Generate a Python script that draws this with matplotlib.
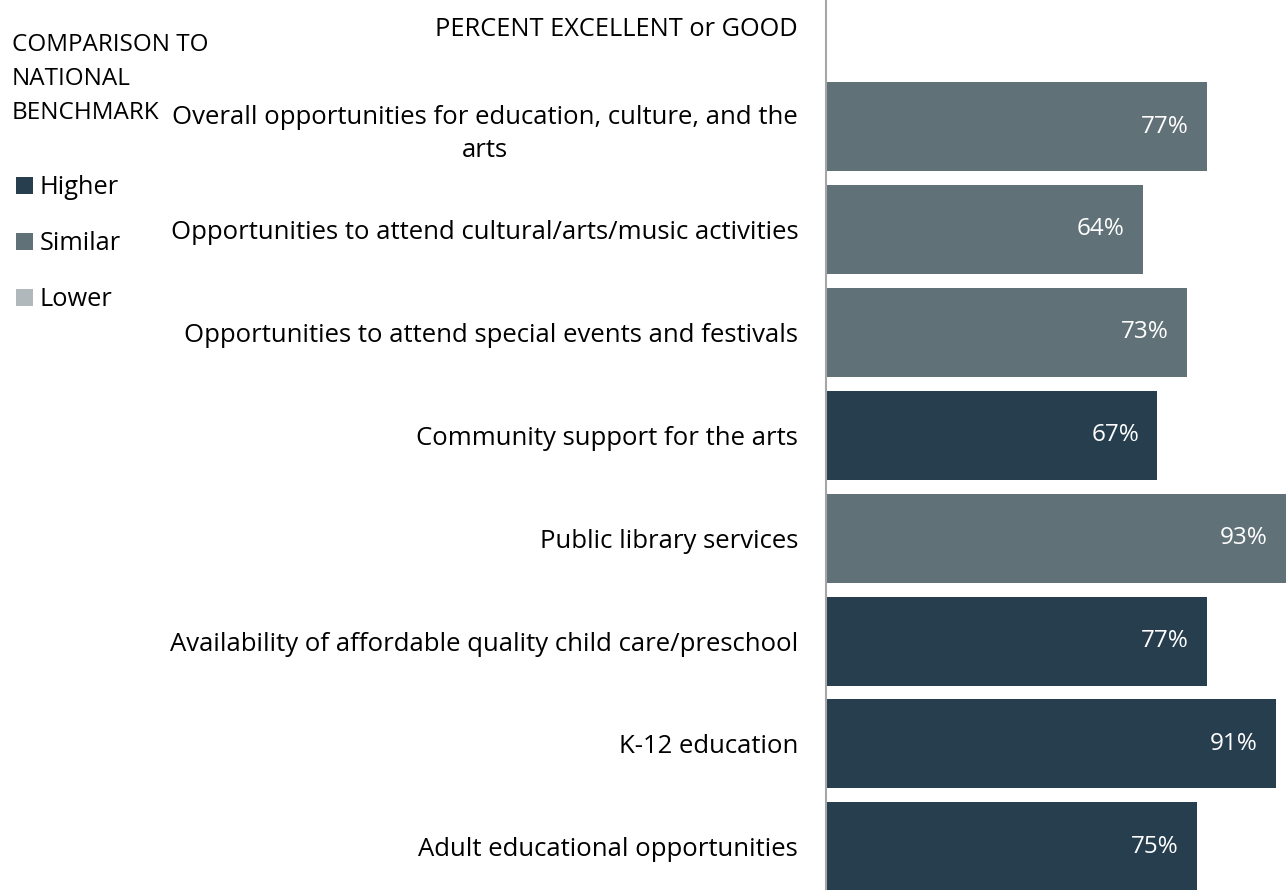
import matplotlib.pyplot as plt
from matplotlib.patches import Patch

plt.rcParams['font.family'] = ['Open Sans', 'DejaVu Sans']

categories = [
    'Overall opportunities for education, culture, and the\narts',
    'Opportunities to attend cultural/arts/music activities',
    'Opportunities to attend special events and festivals',
    'Community support for the arts',
    'Public library services',
    'Availability of affordable quality child care/preschool',
    'K-12 education',
    'Adult educational opportunities',
]
percents = [77, 64, 73, 67, 93, 77, 91, 75]
benchmark = ['Similar', 'Similar', 'Similar', 'Higher', 'Similar', 'Higher', 'Higher', 'Higher']

levels = ['Higher', 'Similar', 'Lower']
level_colors = {'Higher': '#273e4f', 'Similar': '#607177', 'Lower': '#b1b8bc'}

W, H = 1288, 890
fig = plt.figure(figsize=(W / 100, H / 100), dpi=100)
ax = fig.add_axes([826 / W, 0, (W - 826) / W, 1])

ypos = list(range(len(categories)))
colors = [level_colors[b] for b in benchmark]
bars = ax.barh(ypos, percents, height=0.865, color=colors, edgecolor='none')

for bar, p in zip(bars, percents):
    ax.annotate(f'{p}%', (bar.get_width(), bar.get_y() + bar.get_height() / 2),
                xytext=(-13, 0), textcoords='offset points',
                ha='right', va='center', color='white', fontsize=17.5)

ax.set_xlim(0, 93.4)
ax.set_ylim(7.42, -1.23)
ax.set_yticks(ypos)
ax.set_yticklabels(categories, fontsize=18.5, multialignment='center', linespacing=1.45)
ax.tick_params(axis='y', length=0, pad=20)
ax.set_xticks([])
for side in ['top', 'right', 'bottom']:
    ax.spines[side].set_visible(False)
ax.spines['left'].set_color('#a6a6a6')
ax.spines['left'].set_linewidth(1.5)

fig.text(798 / W, 1 - 29 / H, 'PERCENT EXCELLENT or GOOD', ha='right', va='center', fontsize=18.3)
fig.text(12 / W, 1 - 79 / H, 'COMPARISON TO\nNATIONAL\nBENCHMARK', ha='left', va='center',
         fontsize=17.5, linespacing=1.55)

handles = [Patch(facecolor=level_colors[l], edgecolor='none') for l in levels]
fig.legend(handles, levels, loc='upper left', bbox_to_anchor=(6 / W, 1 - 165 / H),
           frameon=False, fontsize=18.3, handlelength=0.66, handleheight=0.66,
           handletextpad=0.27, labelspacing=1.22, borderaxespad=0)

fig.savefig('out.png', dpi=100)
